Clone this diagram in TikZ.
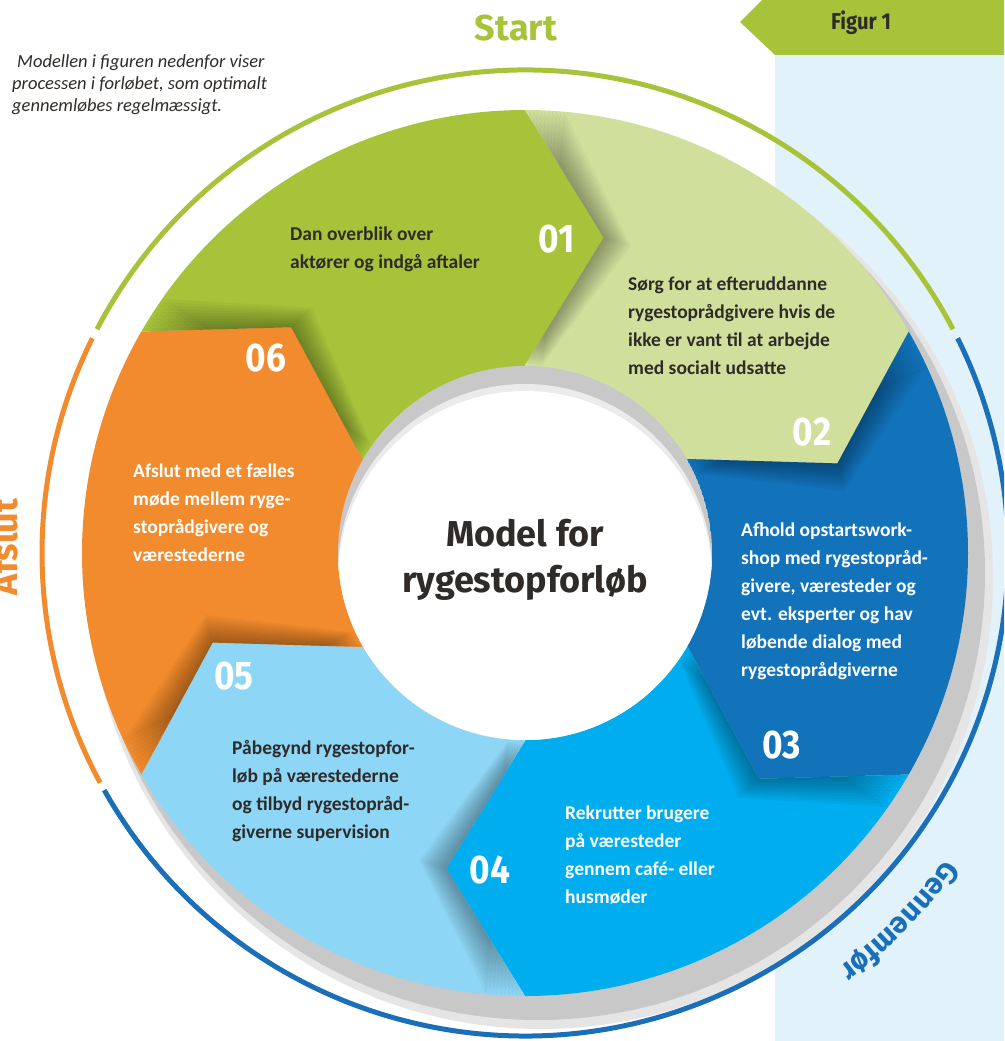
\documentclass[tikz,border=0pt]{standalone}
\usepackage{fontspec}
\setmainfont{Carlito}
\newfontfamily\fira{Fira Sans}
\newfontfamily\firanum{Fira Sans}[FakeStretch=0.88]
\usetikzlibrary{decorations.text}
\definecolor{cgreen}{HTML}{A6C33A}
\definecolor{clgreen}{HTML}{D1DF9C}
\definecolor{cdblue}{HTML}{1273BB}
\definecolor{ccyan}{HTML}{00AEEF}
\definecolor{clblue}{HTML}{8ED6F6}
\definecolor{corange}{HTML}{F28B2D}
\definecolor{cring}{HTML}{1B6FB8}
\definecolor{cbg}{HTML}{E1F2FB}
\definecolor{ctext}{HTML}{2E2B28}
\definecolor{cshadow}{HTML}{C8C8C8}
\tikzset{
  rtext/.style={anchor=west, align=left, inner sep=0, font=\bfseries\fontsize{19.5}{28}\selectfont},
  num/.style={inner sep=0, text=white, font=\firanum\bfseries\fontsize{40}{40}\selectfont},
  ringlabel/.style={inner sep=0, anchor=base, font=\fira\bfseries\fontsize{36}{36}\selectfont},
  ringarc/.style={line width=5pt}
}
\begin{document}
\begin{tikzpicture}[x=1pt,y=1pt]
\useasboundingbox (0,0) rectangle (1004,-1041);
\clip (0,0) rectangle (1004,-1041);
% right background and tab
\fill[cbg] (775,-55) rectangle (1004,-1041);
\fill[cgreen] (762,0) -- (740,-22) -- (775,-55) -- (1004,-55) -- (1004,0) -- cycle;
\node[inner sep=0, anchor=base, text=ctext, font=\firanum\bfseries\fontsize{23}{23}\selectfont] (figur) at (861,-30) {Figur 1};
\node[anchor=west, align=left, inner sep=0, text=ctext, font=\itshape\fontsize{18.5}{22}\selectfont] (intro) at (12,-85) {\hspace{5pt}Modellen i figuren nedenfor viser\\processen i forløbet, som optimalt\\gennemløbes regelmæssigt.};
\begin{scope}[shift={(525,-553)}]
  % pie shadow
  \fill[black!10] (16,-24) circle[radius=452];
  \fill[cshadow] (13,-20) circle[radius=447];
  % sectors
  \foreach \k/\col in {0/cgreen,1/clgreen,2/cdblue,3/ccyan,4/clblue,5/corange}{
    \pgfmathsetmacro\ts{150-60*\k}
    \pgfmathsetmacro\te{\ts-60}
    \pgfmathsetmacro\tsn{\ts-14}
    \pgfmathsetmacro\ten{\te-14}
    \fill[\col] (0,0) -- (\ts:188) -- (\tsn:325) -- (\ts:443)
      arc[start angle=\ts, end angle=\te, radius=443]
      -- (\ten:325) -- (\te:188) -- cycle;
  }
  % fold shadows of each tip onto the next sector
  \foreach \k in {0,...,5}{
    \pgfmathsetmacro\te{90-60*\k}
    \pgfmathsetmacro\ten{\te-14}
    \pgfmathsetmacro\tf{\te-60}
    \pgfmathsetmacro\tfn{\te-74}
    \begin{scope}
      \clip (0,0) -- (\te:188) -- (\ten:325) -- (\te:443)
        arc[start angle=\te, end angle=\tf, radius=443]
        -- (\tfn:325) -- (\tf:188) -- cycle;
      \foreach \i in {1,...,10}{
        \fill[black, opacity=0.035, rotate=-0.5*\i] (\te:188) -- (\ten:325) -- (\te:443) -- cycle;
      }
    \end{scope}
  }
  % centre disc with inner shadow
  \begin{scope}
    \clip (0,0) circle[radius=187];
    \fill[cshadow] (0,0) circle[radius=187];
    \fill[black!8] (0,-18) circle[radius=187];
    \fill[white] (0,-25) circle[radius=187];
  \end{scope}
  % outer ring
  \draw[ringarc, cgreen] (152.4:483) arc[start angle=152.4, end angle=27.6, radius=483];
  \draw[ringarc, cring] (26.4:483) arc[start angle=26.4, end angle=-150.6, radius=483];
  \draw[ringarc, corange] (153.6:483) arc[start angle=153.6, end angle=208.4, radius=483];
  % Gennemfør along the arc
  \path[decorate, decoration={text along path, text align=center, text color=cring,
     text={|\fira\bfseries\fontsize{30}{30}\selectfont|Gennemfør}}]
     (-28:520) arc[start angle=-28, end angle=-61, radius=520];
\end{scope}
% ring labels
\node[ringlabel, text=cgreen] (start) at (516,-41) {Start};
\node[ringlabel, text=corange, rotate=90] (afslut) at (17,-547) {Afslut};
% centre title
\node[inner sep=0, align=center, text=ctext, font=\fira\bfseries\fontsize{36}{46}\selectfont] (title) at (525,-560) {Model for\\rygestopforløb};
% numbers
\node[num] (n1) at (557,-239) {01};
\node[num] (n2) at (812,-432) {02};
\node[num] (n3) at (782,-745) {03};
\node[num] (n4) at (490,-870) {04};
\node[num] (n5) at (234,-676) {05};
\node[num] (n6) at (266,-358) {06};
% texts
\node[rtext, text=ctext] (t1) at (290,-249) {Dan overblik over\\aktører og indgå aftaler};
\node[rtext, text=ctext] (t2) at (628,-326) {Sørg for at efteruddanne\\rygestoprådgivere hvis de\\ikke er vant til at arbejde\\med socialt udsatte};
\node[rtext, text=white] (t3) at (741,-601) {Afhold opstartswork-\\shop med rygestopråd-\\givere, væresteder og\\evt. eksperter og hav\\løbende dialog med\\rygestoprådgiverne};
\node[rtext, text=white] (t4) at (565,-855) {Rekrutter brugere\\på væresteder\\gennem café- eller\\husmøder};
\node[rtext, text=ctext] (t5) at (232,-791) {Påbegynd rygestopfor-\\løb på værestederne\\og tilbyd rygestopråd-\\giverne supervision};
\node[rtext, text=white] (t6) at (133,-513) {Afslut med et fælles\\møde mellem ryge-\\stoprådgivere og\\værestederne};
\end{tikzpicture}
\end{document}
